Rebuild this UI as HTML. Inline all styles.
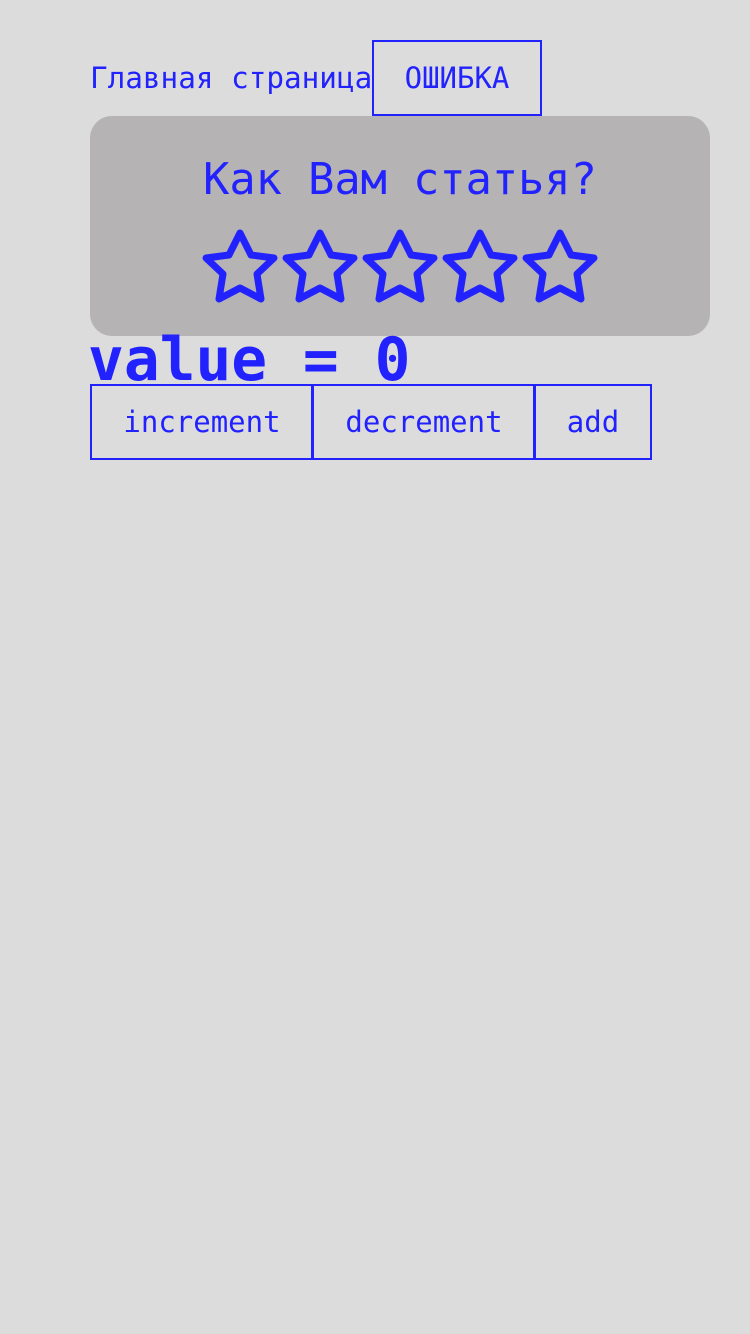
<!DOCTYPE html>
<html><head><meta charset="utf-8"><style>
html,body{margin:0;padding:0;background:#dcdcdc;width:750px;height:1334px;overflow:hidden}
*{box-sizing:border-box}
body{font-family:"DejaVu Sans Mono","Liberation Mono",monospace;color:#2222ff;position:relative}
.a{position:absolute;white-space:nowrap}
.btn{position:absolute;border:2px solid #2222ff;display:flex;align-items:center;justify-content:center;font-size:29px}
</style></head><body>
<div class="a" style="left:90px;top:58px;font-size:29.3px;line-height:40px">Главная страница</div>
<div class="btn" style="left:372px;top:40px;width:170px;height:76px">ОШИБКА</div>
<div class="a" style="left:90px;top:116px;width:620px;height:220px;background:#b5b3b4;border-radius:22px"></div>
<div class="a" style="left:90px;top:152px;width:620px;text-align:center;font-size:43.6px;line-height:56px">Как Вам статья?</div>
<svg class="a" style="left:0;top:0" width="750" height="340">
<defs><path id="s" d="M240,233 L251,255 L274,258 L257,274 L261,299 L240,288 L219,299 L223,274 L206,258 L229,255 Z" fill="none" stroke="#2222ff" stroke-width="7" stroke-linejoin="round"/></defs>
<use href="#s"/><use href="#s" x="80"/><use href="#s" x="160"/><use href="#s" x="240"/><use href="#s" x="320"/>
</svg>
<div class="a" style="left:88px;top:326px;font-size:59.5px;font-weight:bold;line-height:70px">value = 0</div>
<div class="btn" style="left:90px;top:384px;width:224px;height:76px">increment</div>
<div class="btn" style="left:311px;top:384px;width:225px;height:76px;border-left-width:3px">decrement</div>
<div class="btn" style="left:533px;top:384px;width:119px;height:76px;border-left-width:3px">add</div>
</body></html>
